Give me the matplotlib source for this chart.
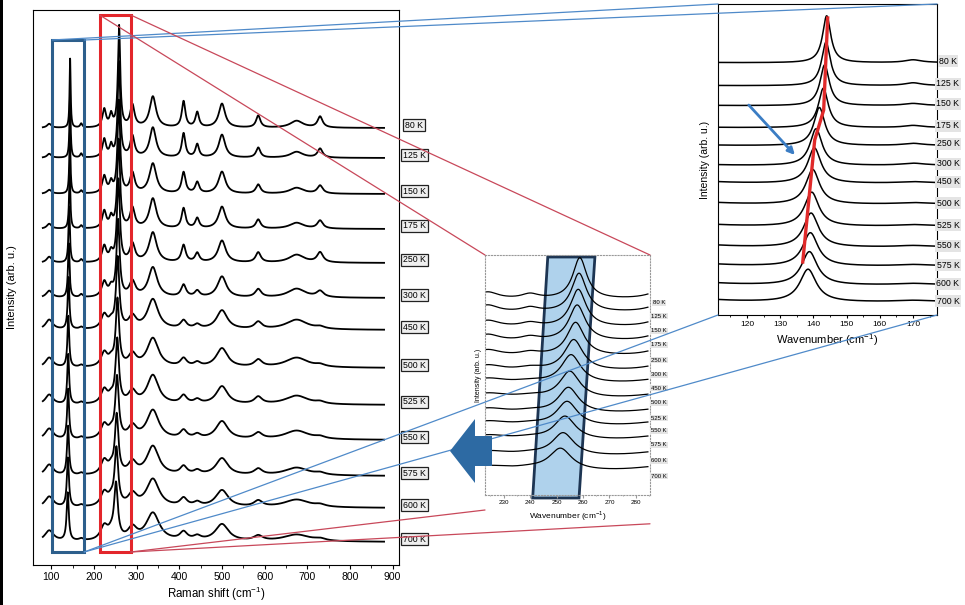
import numpy as np
import matplotlib
matplotlib.use("Agg")
import matplotlib.pyplot as plt
from matplotlib.patches import ConnectionPatch, Polygon, Rectangle, FancyArrow
from matplotlib.ticker import MultipleLocator

plt.rcParams['font.family'] = ['Liberation Sans', 'DejaVu Sans']
plt.rcParams['mathtext.fontset'] = 'custom'
plt.rcParams['mathtext.rm'] = 'Liberation Sans'

temps = ["80 K", "125 K", "150 K", "175 K", "250 K", "300 K", "450 K",
         "500 K", "525 K", "550 K", "575 K", "600 K", "700 K"]

# baselines of the stacked spectra, in pixels above the bottom of each panel
main_base = [437, 407, 371, 336, 302, 267, 235, 197, 160, 125, 89, 57, 23]
right_base = [252, 229, 209, 187, 169, 149, 131, 110, 88, 67, 48, 29, 12]
mid_base = [195, 182, 167, 153, 138, 123, 110, 95, 80, 67, 53, 37, 22]

# mode near 143 cm-1 (blue box / right inset)
e_pos = [144.0, 143.8, 143.4, 143.0, 141.8, 140.8, 140.3, 139.8, 139.5, 139.3, 139.1, 138.8, 138.4]
e_hw = [1.5, 1.6, 1.7, 1.8, 2.0, 2.2, 2.4, 2.5, 2.6, 2.7, 2.8, 2.9, 3.0]
e_height = [69, 64, 60, 58, 56, 54, 52, 51, 50, 50, 49, 49, 48]

# mode near 257 cm-1 (red box / middle inset)
a_pos = [258.8, 258.5, 258.2, 257.8, 257.2, 256.5, 255.5, 255.0, 254.5, 254.0, 253.2, 252.5, 251.5]
a_hw = [3.2, 3.4, 3.6, 3.8, 4.0, 4.3, 4.5, 4.6, 4.7, 4.8, 4.9, 5.0, 5.2]
a_height = [101, 95, 92, 88, 82, 76, 70, 66, 63, 60, 58, 56, 54]

# weaker bands
weak_pos = [95, 170, 224, 240, 290, 338, 410, 442, 500, 585, 675, 730]
weak_hw = [6, 3, 5, 4, 6, 9, 5, 5, 9, 6, 18, 7]
broaden = [1.0, 1.0, 1.1, 1.1, 1.2, 1.4, 1.7, 1.8, 1.8, 1.9, 1.9, 2.0, 2.1]
weak_height = [
    [4, 4, 18, 12, 22, 31, 26, 15, 24, 12, 7, 11],
    [4, 4, 18, 11, 21, 30, 24, 13, 23, 10, 6, 9],
    [4, 3, 17, 10, 20, 30, 21, 11, 22, 9, 6, 8],
    [5, 3, 17, 10, 20, 30, 20, 10, 22, 9, 6, 8],
    [6, 3, 16, 9, 18, 30, 17, 9, 22, 10, 8, 10],
    [7, 3, 15, 8, 15, 30, 12, 6, 21, 8, 9, 6],
    [10, 2, 14, 6, 12, 30, 8, 4, 19, 7, 10, 2],
    [10, 2, 14, 6, 12, 29, 8, 4, 19, 7, 10, 2],
    [10, 2, 14, 6, 12, 29, 8, 4, 18, 7, 9, 2],
    [11, 2, 14, 6, 12, 29, 8, 4, 18, 6, 9, 2],
    [11, 2, 14, 6, 12, 29, 8, 4, 17, 6, 8, 2],
    [11, 2, 14, 6, 12, 28, 8, 4, 17, 6, 8, 2],
    [11, 2, 14, 6, 12, 28, 8, 4, 17, 5, 7, 2],
]

# guide line and arrow drawn in the right inset
trend_wn = [144.3, 143.1, 140.4, 136.8]
trend_y = [297, 205, 175, 53]
arrow_from = (120, 212)
arrow_to = (135, 158)

# shaded band in the middle inset
band_wn = [246.7, 264.5, 258.5, 241.0]
band_y = [238, 238, -3, -3]

W, H = 965, 605


def lorentz(x, p, w, h):
    return h / (1 + ((x - p) / w) ** 2)


def spectrum(x, i, scale):
    y = lorentz(x, e_pos[i], e_hw[i], e_height[i])
    y = y + lorentz(x, a_pos[i], a_hw[i], a_height[i])
    for p, w, h in zip(weak_pos, weak_hw, weak_height[i]):
        y = y + lorentz(x, p, w * broaden[i], h)
    return scale * y


def px_axes(fig, left, top, right, bottom):
    return fig.add_axes([left / W, (H - bottom) / H, (right - left) / W, (bottom - top) / H])


fig = plt.figure(figsize=(W / 100, H / 100), dpi=100)

# ---- main panel
ax = px_axes(fig, 33, 10, 399, 565)
x = np.linspace(80, 880, 4001)
for i, t in enumerate(temps):
    ax.plot(x, main_base[i] + spectrum(x, i, 1.0), color='black', lw=1.3)
    ax.text(1.042, main_base[i] + 3, t, transform=ax.get_yaxis_transform(),
            ha='center', va='center', fontsize=6.3,
            bbox=dict(boxstyle='square,pad=0.22', fc='#efefef', ec='#222222', lw=0.9))
ax.set_xlim(57, 915)
ax.set_ylim(0, 555)
ax.set_yticks([])
ax.xaxis.set_major_locator(MultipleLocator(100))
ax.xaxis.set_minor_locator(MultipleLocator(50))
ax.tick_params(axis='x', which='both', direction='out', labelsize=7.5, pad=2)
ax.tick_params(axis='x', which='major', length=3)
ax.tick_params(axis='x', which='minor', length=2)
ax.set_xlabel("Raman shift (cm$^{-1}$)", fontsize=8.3)
ax.xaxis.set_label_coords(0.5, -0.036)
ax.set_ylabel("Intensity (arb. u.)", fontsize=8)
ax.yaxis.set_label_coords(-0.044, 0.5)
ax.add_patch(Rectangle((102, 13), 75, 512, fill=False, ec='#2d5f8c', lw=2.2, zorder=5))
ax.add_patch(Rectangle((213, 13), 73, 537, fill=False, ec='#e3262b', lw=2.2, zorder=5))

# ---- right inset (143 cm-1 mode)
axr = px_axes(fig, 718, 4, 937, 315)
xr = np.linspace(111.5, 177, 1200)
for i, t in enumerate(temps):
    axr.plot(xr, right_base[i] + spectrum(xr, i, 0.68), color='black', lw=1.1)
    axr.text(1.05, right_base[i] + 2, t, transform=axr.get_yaxis_transform(),
             ha='center', va='center', fontsize=6.3,
             bbox=dict(boxstyle='square,pad=0.15', fc='#e4e4e4', ec='none'))
axr.plot(trend_wn, trend_y, color='#e02a2a', lw=2.4, zorder=4)
axr.annotate('', xy=arrow_to, xytext=arrow_from,
             arrowprops=dict(arrowstyle='-|>', color='#3b7dc4', lw=2, mutation_scale=10))
axr.set_xlim(111.3, 177.2)
axr.set_ylim(0, 311)
axr.set_yticks([])
axr.xaxis.set_major_locator(MultipleLocator(10))
axr.xaxis.set_minor_locator(MultipleLocator(5))
axr.tick_params(axis='x', which='both', direction='out', labelsize=6, pad=2)
axr.tick_params(axis='x', which='major', length=2.5)
axr.tick_params(axis='x', which='minor', length=1.5)
axr.set_xlabel("Wavenumber (cm$^{-1}$)", fontsize=8)
axr.xaxis.set_label_coords(0.5, -0.055)
axr.set_ylabel("Intensity (arb. u.)", fontsize=7.5)
axr.yaxis.set_label_coords(-0.037, 0.5)

# ---- middle inset (257 cm-1 mode)
axm = px_axes(fig, 485, 255, 650, 495)
xm = np.linspace(223.5, 284.5, 1000)
axm.add_patch(Polygon(list(zip(band_wn, band_y)), closed=True, fc='#afd2ec',
                      ec='#1d3553', lw=2, zorder=1, clip_on=False))
for i, t in enumerate(temps):
    axm.plot(xm, mid_base[i] + spectrum(xm, i, 0.41), color='black', lw=0.9, zorder=2)
    axm.text(1.055, mid_base[i] - 3, t, transform=axm.get_yaxis_transform(),
             ha='center', va='center', fontsize=4.3,
             bbox=dict(boxstyle='square,pad=0.15', fc='#e4e4e4', ec='none'))
axm.set_xlim(223, 285.3)
axm.set_ylim(0, 240)
axm.set_yticks([])
axm.set_xticks([230, 240, 250, 260, 270, 280])
axm.xaxis.set_minor_locator(MultipleLocator(5))
axm.tick_params(axis='x', which='both', direction='out', labelsize=4.5, pad=1.5,
                color='#999999')
axm.tick_params(axis='x', which='major', length=2)
axm.tick_params(axis='x', which='minor', length=1)
for s in axm.spines.values():
    s.set_linestyle(':')
    s.set_color('#999999')
    s.set_linewidth(0.8)
axm.set_xlabel("Wavenumber (cm$^{-1}$)", fontsize=6)
axm.xaxis.set_label_coords(0.5, -0.06)
axm.set_ylabel("Intensity (arb. u.)", fontsize=5)
axm.yaxis.set_label_coords(-0.02, 0.5)

# ---- zoom connector lines
blue = '#4f8ac9'
red = '#c8485a'
links = [
    ((102, 525), axr, (0, 1), blue),
    ((177, 525), axr, (1, 1), blue),
    ((177, 13), axr, (0, 0), blue),
    ((177, 13), axr, (1, 0), blue),
    ((213, 550), axm, (0, 1), red),
    ((286, 550), axm, (1, 1), red),
    ((286, 13), axm, (0, -0.0625), red),
    ((286, 13), axm, (1, -0.12), red),
]
for pa, axb, pb, c in links:
    con = ConnectionPatch(xyA=pa, coordsA='data', axesA=ax, xyB=pb,
                          coordsB='axes fraction', axesB=axb, color=c, lw=0.9)
    fig.add_artist(con)

# ---- overlay: big arrow and left black edge
ov = fig.add_axes([0, 0, 1, 1], zorder=5)
ov.set_xlim(0, W)
ov.set_ylim(H, 0)
ov.axis('off')
ov.add_patch(FancyArrow(492, 451, -42, 0, width=30, head_width=64, head_length=25,
                        length_includes_head=True, color='#2d6aa3', lw=0))
ov.add_patch(Rectangle((0, 0), 3, H, color='black', lw=0))

fig.savefig("out.png", dpi=100)
